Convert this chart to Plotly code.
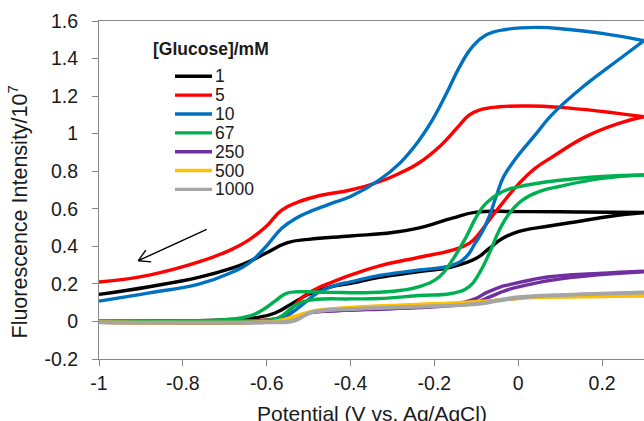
import plotly.graph_objects as go
import numpy as np

# ---- data: fluorescence intensity (x10^7) vs potential (V vs. Ag/AgCl) ----
concentrations = ["1", "5", "10", "67", "250", "500", "1000"]
colors = ["#000000", "#FF0000", "#0070C0", "#00B050", "#7030A0", "#FFC000", "#A5A5A5"]

x_tick_vals = [-1.0, -0.8, -0.6, -0.4, -0.2, 0.0, 0.2]
x_tick_text = ["-1", "-0.8", "-0.6", "-0.4", "-0.2", "0", "0.2"]
y_tick_vals = [-0.2, 0.0, 0.2, 0.4, 0.6, 0.8, 1.0, 1.2, 1.4, 1.6]
y_tick_text = ["-0.2", "0", "0.2", "0.4", "0.6", "0.8", "1", "1.2", "1.4", "1.6"]

# 1 mM
c1_fwd_x = [-1.0, -0.8, -0.68, -0.62, -0.58, -0.54, -0.5, -0.45, -0.4, -0.331, -0.236, -0.157,
            -0.1, -0.069, -0.038, 0.0, 0.07, 0.15, 0.22, 0.3]
c1_fwd_y = [0.0, 0.003, 0.01, 0.022, 0.045, 0.095, 0.145, 0.183, 0.203, 0.235, 0.265, 0.291,
            0.336, 0.389, 0.442, 0.478, 0.507, 0.535, 0.56, 0.58]
c1_rev_x = [0.3, 0.15, 0.0, -0.1, -0.157, -0.236, -0.3, -0.4, -0.5, -0.55, -0.6,
            -0.643, -0.683, -0.76, -0.88, -1.0]
c1_rev_y = [0.58, 0.583, 0.585, 0.582, 0.55, 0.498, 0.474, 0.455, 0.437, 0.42, 0.366,
            0.318, 0.284, 0.236, 0.185, 0.144]

# 5 mM
c5_fwd_x = [-1.0, -0.8, -0.65, -0.6, -0.565, -0.54, -0.513, -0.48, -0.442, -0.402, -0.331, -0.236,
            -0.157, -0.117, -0.093, -0.069, -0.038, 0.0, 0.04, 0.082, 0.16, 0.24, 0.3]
c5_fwd_y = [0.0, 0.002, 0.004, 0.008, 0.025, 0.07, 0.132, 0.176, 0.211, 0.245, 0.296, 0.342,
            0.38, 0.416, 0.469, 0.54, 0.629, 0.73, 0.815, 0.877, 0.983, 1.055, 1.09]
c5_rev_x = [0.3, 0.193, 0.098, 0.026, -0.045, -0.093, -0.117, -0.14, -0.164, -0.188, -0.236, -0.283,
            -0.331, -0.4, -0.47, -0.524, -0.564, -0.602, -0.643, -0.683, -0.76, -0.88, -1.0]
c5_rev_y = [1.09, 1.12, 1.14, 1.147, 1.143, 1.126, 1.099, 1.046, 0.985, 0.93, 0.845, 0.789,
            0.744, 0.7, 0.672, 0.637, 0.593, 0.504, 0.433, 0.384, 0.318, 0.247, 0.21]

# 10 mM
c10_fwd_x = [-1.0, -0.8, -0.65, -0.6, -0.575, -0.552, -0.52, -0.48, -0.44, -0.4, -0.331, -0.236, -0.157,
             -0.124, -0.103, -0.085, -0.069, -0.052, -0.035, -0.015, 0.0, 0.043, 0.08, 0.16, 0.24, 0.3]
c10_fwd_y = [0.0, 0.002, 0.003, 0.005, 0.012, 0.03, 0.08, 0.15, 0.19, 0.211, 0.245, 0.274, 0.3,
             0.345, 0.416, 0.48, 0.56, 0.67, 0.77, 0.84, 0.885, 1.0, 1.1, 1.26, 1.395, 1.495]
c10_rev_x = [0.3, 0.2, 0.121, 0.043, -0.029, -0.077, -0.109, -0.14, -0.171, -0.205, -0.236, -0.283, -0.331,
             -0.4, -0.45, -0.53, -0.564, -0.602, -0.643, -0.683, -0.76, -0.88, -1.0]
c10_rev_y = [1.495, 1.534, 1.555, 1.566, 1.555, 1.525, 1.463, 1.356, 1.215, 1.072, 0.966, 0.842, 0.754,
             0.665, 0.625, 0.55, 0.496, 0.398, 0.309, 0.262, 0.2, 0.152, 0.108]

# 67 mM
c67_fwd_x = [-1.0, -0.8, -0.6, -0.575, -0.561, -0.537, -0.513, -0.48, -0.4, -0.331, -0.236, -0.157,
             -0.117, -0.093, -0.069, -0.045, -0.021, 0.01, 0.05, 0.1, 0.2, 0.3]
c67_fwd_y = [0.0, 0.002, 0.006, 0.015, 0.034, 0.078, 0.105, 0.118, 0.12, 0.122, 0.138, 0.15,
             0.185, 0.256, 0.363, 0.487, 0.576, 0.646, 0.691, 0.72, 0.762, 0.78]
c67_rev_x = [0.3, 0.2, 0.1, 0.0, -0.038, -0.077, -0.1, -0.124, -0.157, -0.188, -0.236, -0.283,
             -0.35, -0.45, -0.52, -0.553, -0.577, -0.61, -0.64, -0.7, -0.8, -1.0]
c67_rev_y = [0.78, 0.772, 0.752, 0.717, 0.691, 0.629, 0.557, 0.451, 0.327, 0.238, 0.185, 0.165,
             0.154, 0.155, 0.158, 0.15, 0.114, 0.061, 0.03, 0.01, 0.003, 0.0]

# 250 mM
c250_fwd_x = [-1.0, -0.6, -0.55, -0.52, -0.5, -0.45, -0.3, -0.2, -0.15, -0.12, -0.1, -0.077, -0.045,
              -0.02, 0.033, 0.074, 0.19, 0.3]
c250_fwd_y = [-0.005, -0.004, 0.0, 0.025, 0.045, 0.055, 0.068, 0.078, 0.086, 0.092, 0.1, 0.122, 0.152,
              0.172, 0.2, 0.218, 0.248, 0.265]
c250_rev_x = [0.3, 0.19, 0.074, 0.033, -0.021, -0.045, -0.077, -0.1, -0.14, -0.2, -0.3, -0.45, -0.5,
              -0.52, -0.55, -0.6, -1.0]
c250_rev_y = [0.268, 0.256, 0.238, 0.222, 0.196, 0.182, 0.152, 0.123, 0.096, 0.08, 0.07, 0.056, 0.047,
              0.03, 0.005, -0.004, -0.005]

# 500 mM
c500_fwd_x = [-1.0, -0.6, -0.575, -0.55, -0.53, -0.5, -0.47, -0.4, -0.283, -0.2, -0.093, -0.05, 0.033,
              0.1, 0.2, 0.3]
c500_fwd_y = [-0.004, -0.003, 0.0, 0.008, 0.02, 0.045, 0.06, 0.072, 0.085, 0.092, 0.104, 0.112, 0.127,
              0.13, 0.133, 0.136]
c500_rev_x = [0.3, 0.2, 0.1, 0.033, -0.093, -0.2, -0.283, -0.4, -0.47, -0.5, -0.53, -0.57, -0.6, -1.0]
c500_rev_y = [0.137, 0.134, 0.131, 0.128, 0.106, 0.094, 0.087, 0.074, 0.062, 0.05, 0.03, 0.004, -0.003,
              -0.004]

# 1000 mM
c1000_fwd_x = [-1.0, -0.6, -0.55, -0.53, -0.51, -0.49, -0.46, -0.4, -0.283, -0.2, -0.093, -0.05, 0.0,
               0.05, 0.114, 0.2, 0.3]
c1000_fwd_y = [-0.006, -0.006, -0.004, 0.005, 0.03, 0.048, 0.058, 0.065, 0.074, 0.08, 0.093, 0.108,
               0.125, 0.134, 0.14, 0.147, 0.153]
c1000_rev_x = [0.3, 0.2, 0.114, 0.0, -0.093, -0.2, -0.283, -0.4, -0.47, -0.5, -0.52, -0.55, -0.6, -1.0]
c1000_rev_y = [0.156, 0.149, 0.142, 0.13, 0.097, 0.082, 0.077, 0.067, 0.058, 0.045, 0.02, 0.0, -0.004,
               -0.005]

sweeps = [
    (c1_fwd_x, c1_fwd_y, c1_rev_x, c1_rev_y),
    (c5_fwd_x, c5_fwd_y, c5_rev_x, c5_rev_y),
    (c10_fwd_x, c10_fwd_y, c10_rev_x, c10_rev_y),
    (c67_fwd_x, c67_fwd_y, c67_rev_x, c67_rev_y),
    (c250_fwd_x, c250_fwd_y, c250_rev_x, c250_rev_y),
    (c500_fwd_x, c500_fwd_y, c500_rev_x, c500_rev_y),
    (c1000_fwd_x, c1000_fwd_y, c1000_rev_x, c1000_rev_y),
]

# ---- layout geometry (pixels) ----
W, H = 644, 421
L, R, T, B = 99, 644, 21, 359
X_RANGE = [-1.0, 0.3]
Y_RANGE = [-0.2, 1.6]
FONT = "Arial, Liberation Sans, sans-serif"
TEXT = "#1a1a1a"
AXIS = "#868686"
LW = 3.4


def paper_x(px):
    return (px - L) / (R - L)


def paper_y(py):
    return (B - py) / (B - T)


fig = go.Figure()
for conc, col, (fx, fy, rx, ry) in zip(concentrations, colors, sweeps):
    for xs, ys in ((fx, fy), (rx, ry)):
        fig.add_trace(go.Scatter(
            x=xs, y=ys, mode="lines", name=conc + " mM", legendgroup=conc, showlegend=False,
            line=dict(color=col, width=LW, shape="spline", smoothing=1.3),
            hoverinfo="skip",
        ))

shapes = []
annotations = []

# legend block
annotations.append(dict(
    xref="paper", yref="paper", x=paper_x(151), y=paper_y(49), xanchor="left", yanchor="middle",
    text="<b>[Glucose]/mM</b>", showarrow=False, font=dict(family=FONT, size=17.5, color=TEXT),
))
row0, row_step = 76.3, 18.85
for i, (conc, col) in enumerate(zip(concentrations, colors)):
    ry = row0 + i * row_step
    shapes.append(dict(
        type="line", xref="paper", yref="paper", x0=paper_x(175), x1=paper_x(212),
        y0=paper_y(ry), y1=paper_y(ry), line=dict(color=col, width=LW),
    ))
    annotations.append(dict(
        xref="paper", yref="paper", x=paper_x(213), y=paper_y(ry), xanchor="left", yanchor="middle",
        text=conc, showarrow=False, font=dict(family=FONT, size=17.5, color=TEXT),
    ))

# sweep-direction arrow
tail = np.array([206.7, 229.3])
tip = np.array([138.3, 260.7])
d = tail - tip
ang = np.arctan2(d[1], d[0])
head_len, spread = 13.0, np.radians(30)
arrow_segments = [(tail, tip)]
for s in (-spread, spread):
    end = tip + head_len * np.array([np.cos(ang + s), np.sin(ang + s)])
    arrow_segments.append((tip, end))
for p0, p1 in arrow_segments:
    shapes.append(dict(
        type="line", xref="paper", yref="paper",
        x0=paper_x(p0[0]), y0=paper_y(p0[1]), x1=paper_x(p1[0]), y1=paper_y(p1[1]),
        line=dict(color="#000000", width=1.4),
    ))

# axis titles
annotations.append(dict(
    xref="paper", yref="paper", x=paper_x(18), y=paper_y(212.5), xanchor="center", yanchor="middle",
    textangle=-90, text="Fluorescence Intensity/10<sup>7</sup>", showarrow=False,
    font=dict(family=FONT, size=21.5, color=TEXT),
))
annotations.append(dict(
    xref="paper", yref="paper", x=paper_x(371.5), y=paper_y(413), xanchor="center", yanchor="middle",
    text="Potential (V vs. Ag/AgCl)", showarrow=False,
    font=dict(family=FONT, size=21, color=TEXT),
))

fig.update_layout(
    width=W, height=H,
    margin=dict(l=L, r=W - R, t=T, b=H - B, pad=0),
    paper_bgcolor="white", plot_bgcolor="white",
    showlegend=False,
    shapes=shapes, annotations=annotations,
    font=dict(family=FONT, color=TEXT),
)
fig.update_xaxes(
    range=X_RANGE, tickvals=x_tick_vals, ticktext=x_tick_text,
    showgrid=False, zeroline=False, showline=True, linecolor=AXIS, linewidth=1.2, mirror=True,
    ticks="outside", ticklen=6, tickcolor=AXIS, tickwidth=1.2,
    tickfont=dict(family=FONT, size=19.5, color=TEXT),
)
fig.update_yaxes(
    range=Y_RANGE, tickvals=y_tick_vals, ticktext=y_tick_text,
    showgrid=False, zeroline=False, showline=True, linecolor=AXIS, linewidth=1.2,
    ticks="outside", ticklen=6, tickcolor=AXIS, tickwidth=1.2, ticklabelstandoff=10,
    tickfont=dict(family=FONT, size=19.5, color=TEXT),
)

fig.write_html("out.html")
